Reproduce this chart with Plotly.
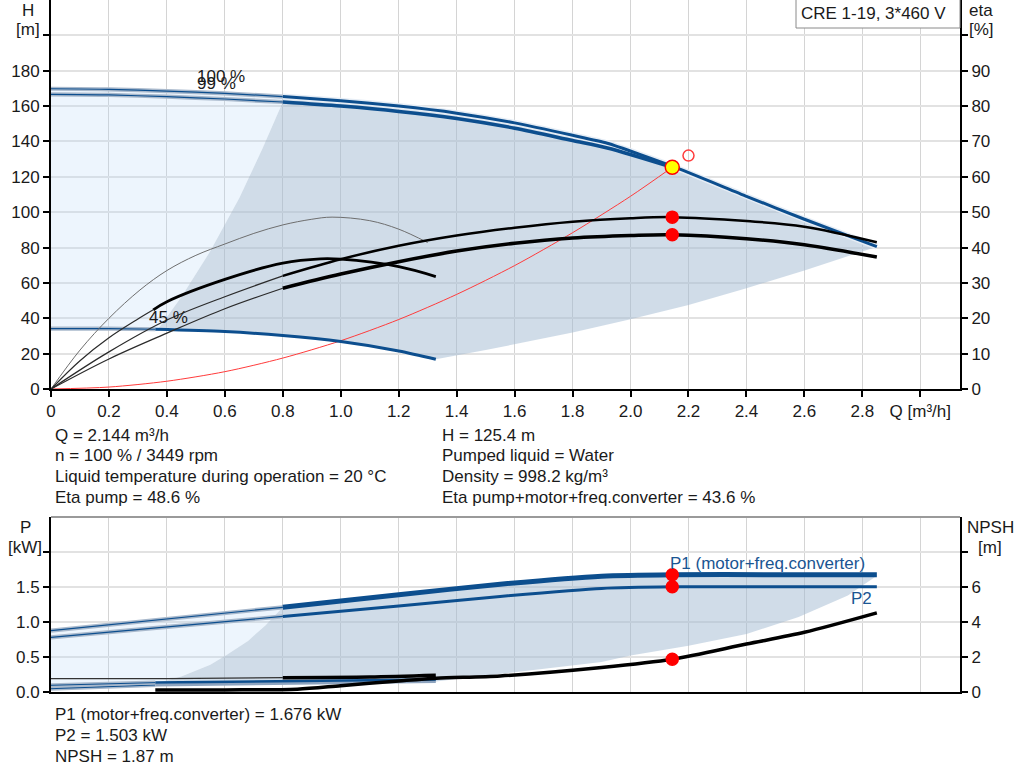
"""Pump performance chart: CRE 1-19, 3*460 V.

Two stacked panels sharing the flow axis: head + efficiency on top,
power + NPSH underneath, with the duty point marked on every curve.
"""
import plotly.graph_objects as go

# ---------------------------------------------------------------------
# Data
# ---------------------------------------------------------------------
# head curves [m] vs flow [m3/h]
q_100 = [0, 0.2, 0.4, 0.6, 0.8, 1.0, 1.2, 1.4, 1.6, 1.8, 1.92, 2.144, 2.4, 2.6, 2.85]
h_100 = [169.8, 169.5, 168.5, 167.2, 165.4, 163.0, 160.0, 156.0, 150.5, 143.5, 139.0, 126.0, 109.0, 96.0, 80.5]
q_99 = [0, 0.2, 0.4, 0.6, 0.8, 1.0, 1.2, 1.4, 1.6, 1.8, 1.92, 2.144]
h_99 = [166.6, 166.3, 165.3, 164.0, 162.3, 160.0, 157.0, 153.0, 147.5, 140.5, 136.3, 125.4]
q_45 = [0, 0.2, 0.36, 0.6, 0.8, 1.0, 1.2, 1.328]
h_45 = [34.2, 34.1, 33.8, 32.5, 30.2, 26.8, 21.5, 16.8]
q_sys = [0, 0.2, 0.4, 0.6, 0.8, 1.0, 1.2, 1.4, 1.6, 1.8, 2.0, 2.144]
h_sys = [0, 1.1, 4.4, 9.8, 17.5, 27.3, 39.3, 53.5, 69.8, 88.4, 109.0, 125.4]

# operating range edges (top panel)
q_hmin = [0.37, 0.45, 0.55, 0.65, 0.73, 0.8]
h_hmin = [34.0, 52.0, 78.0, 108.0, 136.0, 162.3]
q_hlow = [1.328, 1.5, 1.8, 2.0, 2.2, 2.4, 2.6, 2.85]
h_hlow = [16.8, 22.0, 32.0, 39.5, 47.5, 57.0, 67.0, 80.5]

# efficiency curves [%]
q_eta = [0, 0.2, 0.4, 0.6, 0.8, 1.0, 1.2, 1.4, 1.6, 1.8, 2.0, 2.144, 2.4, 2.6, 2.85]
eta_pump = [0, 10.5, 19.5, 26.1, 32.0, 36.7, 40.5, 43.4, 45.6, 47.3, 48.3, 48.6, 47.5, 45.9, 41.5]
eta_total = [0, 8.5, 15.8, 22.7, 28.5, 32.5, 36.0, 39.0, 41.2, 42.7, 43.4, 43.6, 42.5, 40.8, 37.3]
q_eta45 = [0, 0.1, 0.2, 0.307, 0.4, 0.5, 0.6, 0.7, 0.8, 0.9, 0.97, 1.1, 1.2, 1.3]
eta_pump45 = [0, 11.0, 20.0, 28.0, 33.5, 37.8, 41.0, 44.0, 46.4, 48.0, 48.6, 47.6, 45.2, 41.4]
q_etat45 = [0, 0.1, 0.2, 0.3, 0.353, 0.4, 0.6, 0.8, 0.93, 1.0, 1.2, 1.328]
eta_total45 = [0, 8.0, 14.5, 19.8, 22.4, 24.7, 31.0, 35.6, 36.8, 36.7, 34.6, 31.8]

# power curves [kW]
q_p = [0, 0.4, 0.8, 1.2, 1.55, 1.9, 2.144, 2.5, 2.85]
p1_100 = [0.876, 1.045, 1.21, 1.39, 1.54, 1.655, 1.676, 1.676, 1.676]
p2_100 = [0.78, 0.93, 1.08, 1.23, 1.365, 1.48, 1.503, 1.503, 1.503]
q_p45 = [0, 0.36, 0.8, 1.328]
p1_45 = [0.096, 0.134, 0.158, 0.18]
p2_45 = [0.047, 0.10, 0.125, 0.15]
q_pblk = [0, 0.4, 0.8, 1.1, 1.328]
p_blk = [0.19, 0.19, 0.205, 0.215, 0.24]

# operating range edges (bottom panel)
q_pmin = [0.36, 0.45, 0.55, 0.606, 0.68, 0.74, 0.8]
p_pmin = [0.12, 0.22, 0.39, 0.53, 0.73, 0.95, 1.21]
q_plow = [1.328, 1.55, 1.9, 2.0, 2.2, 2.4, 2.58, 2.75, 2.85]
p_plow = [0.16, 0.26, 0.43, 0.52, 0.66, 0.83, 1.07, 1.38, 1.66]

# NPSH [m]
q_npsh = [0.36, 0.6, 0.85, 1.0, 1.2, 1.33, 1.55, 1.9, 2.144, 2.4, 2.6, 2.85]
npsh = [0.11, 0.12, 0.16, 0.36, 0.63, 0.79, 0.92, 1.4, 1.87, 2.74, 3.41, 4.52]

# duty point
q_duty, h_duty = 2.144, 125.4
eta_pump_duty, eta_total_duty = 48.6, 43.6
p1_duty, p2_duty, npsh_duty = 1.676, 1.503, 1.87
q_req, h_req = 2.2, 132.0

# axis ticks
q_ticks = [0, 0.2, 0.4, 0.6, 0.8, 1.0, 1.2, 1.4, 1.6, 1.8, 2.0, 2.2, 2.4, 2.6, 2.8, 3.0]
q_ticktext = ["0", "0.2", "0.4", "0.6", "0.8", "1.0", "1.2", "1.4", "1.6", "1.8",
              "2.0", "2.2", "2.4", "2.6", "2.8", "Q [m³/h]"]
h_ticks = [0, 20, 40, 60, 80, 100, 120, 140, 160, 180, 200]
eta_ticks = [0, 10, 20, 30, 40, 50, 60, 70, 80, 90, 100]
p_ticks = [0, 0.5, 1.0, 1.5, 2.0]
p_ticktext = ["0.0", "0.5", "1.0", "1.5", ""]
npsh_ticks = [0, 2, 4, 6, 8]

info_left = ["Q = 2.144 m³/h", "n = 100 % / 3449 rpm",
             "Liquid temperature during operation = 20 °C", "Eta pump = 48.6 %"]
info_right = ["H = 125.4 m", "Pumped liquid = Water", "Density = 998.2 kg/m³",
              "Eta pump+motor+freq.converter = 43.6 %"]
info_bottom = ["P1 (motor+freq.converter) = 1.676 kW", "P2 = 1.503 kW", "NPSH = 1.87 m"]

# ---------------------------------------------------------------------
# Styling
# ---------------------------------------------------------------------
W, H = 1024, 781
FONT = "Liberation Sans, Arial, sans-serif"
FS = 17
BLUE = "#0c4e8e"
HALO = "#a9b9cc"
LIGHT_FILL = "rgba(180,215,245,0.24)"
DARK_FILL = "rgba(161,185,209,0.5)"
GRID_V = "#d4d4d4"
GRID_H = "#e2e2e2"


def px(x):
    """Page pixel column -> paper fraction."""
    return x / W


def py(y):
    """Page pixel row -> paper fraction."""
    return 1 - y / H


def _pick(q, v, lo, hi):
    """Points of a curve with lo <= q <= hi (used to split thin/thick parts)."""
    pts = [(a, b) for a, b in zip(q, v) if lo <= a <= hi]
    return [p[0] for p in pts], [p[1] for p in pts]


fig = go.Figure()


def curve(x, y, ax, color, width, halo=None, smooth=0.8):
    axes = {"H": ("x", "y"), "eta": ("x", "y2"), "P": ("x2", "y3"), "NPSH": ("x2", "y4")}[ax]
    shape = dict(shape="spline", smoothing=smooth) if smooth else dict(shape="linear")
    if halo:
        fig.add_trace(go.Scatter(x=x, y=y, xaxis=axes[0], yaxis=axes[1], mode="lines",
                                 line=dict(color=halo, width=width + 3, **shape),
                                 hoverinfo="skip"))
    fig.add_trace(go.Scatter(x=x, y=y, xaxis=axes[0], yaxis=axes[1], mode="lines",
                             line=dict(color=color, width=width, **shape), hoverinfo="skip"))


def area(x, y, xa, ya, color):
    fig.add_trace(go.Scatter(x=x, y=y, xaxis=xa, yaxis=ya, mode="lines", fill="toself",
                             fillcolor=color, line=dict(width=0), hoverinfo="skip"))


def dots(x, y, xa, ya, size, color, line_color=None, symbol="circle"):
    fig.add_trace(go.Scatter(x=x, y=y, xaxis=xa, yaxis=ya, mode="markers",
                             marker=dict(size=size, color=color, symbol=symbol,
                                         line=dict(color=line_color or color, width=1.5)),
                             hoverinfo="skip"))


# ---------------------------------------------------------------------
# Top panel: head / efficiency
# ---------------------------------------------------------------------
area(q_100[:5] + q_hmin[::-1] + q_45[2::-1], h_100[:5] + h_hmin[::-1] + h_45[2::-1],
     "x", "y", LIGHT_FILL)
area(q_hmin + q_100[4:] + q_hlow[::-1] + q_45[:1:-1],
     h_hmin + h_100[4:] + h_hlow[::-1] + h_45[:1:-1], "x", "y", DARK_FILL)

curve(q_sys, h_sys, "H", "#ff3b3b", 1)

curve(q_eta45, eta_pump45, "eta", "#6e6e6e", 1, smooth=1)
curve(*_pick(q_eta, eta_pump, 0, 0.8), "eta", "#2a2a2a", 1.2, smooth=1)
curve(*_pick(q_eta, eta_pump, 0.8, 3), "eta", "black", 2.5, smooth=1)
curve(*_pick(q_eta, eta_total, 0, 0.8), "eta", "#2a2a2a", 1.2, smooth=1)
curve(*_pick(q_eta, eta_total, 0.8, 3), "eta", "black", 3.5, smooth=1)
curve(*_pick(q_etat45, eta_total45, 0, 0.353), "eta", "#2a2a2a", 1.2, smooth=1)
curve(*_pick(q_etat45, eta_total45, 0.353, 3), "eta", "black", 2.8, smooth=1)

curve(*_pick(q_100, h_100, 0, 0.8), "H", BLUE, 1.2, halo=HALO)
curve(*_pick(q_99, h_99, 0, 0.8), "H", BLUE, 1.2, halo=HALO)
curve(*_pick(q_45, h_45, 0, 0.36), "H", BLUE, 1.2, halo=HALO)
curve(*_pick(q_100, h_100, 0.8, 3), "H", BLUE, 3, halo="#e6edf5", smooth=0.5)
curve(*_pick(q_99, h_99, 0.8, 3), "H", BLUE, 3.5)
curve(*_pick(q_45, h_45, 0.36, 3), "H", BLUE, 3)

dots([q_duty, q_duty], [eta_pump_duty, eta_total_duty], "x", "y2", 12, "#ff0000")
dots([q_req], [h_req], "x", "y", 11, "#ff3b3b", symbol="circle-open")
dots([q_duty], [h_duty], "x", "y", 14, "#ffff00", line_color="#ff0000")

# ---------------------------------------------------------------------
# Bottom panel: power / NPSH
# ---------------------------------------------------------------------
area(q_p[:3] + q_pmin[::-1] + q_p45[1::-1], p1_100[:3] + p_pmin[::-1] + p2_45[1::-1],
     "x2", "y3", LIGHT_FILL)
area(q_pmin + q_p[2:] + q_plow[::-1] + q_p45[:0:-1],
     p_pmin + p1_100[2:] + p_plow[::-1] + p2_45[:0:-1], "x2", "y3", DARK_FILL)

curve(*_pick(q_p45, p2_45, 0, 0.36), "P", BLUE, 1, halo=HALO, smooth=0)
curve(*_pick(q_p45, p1_45, 0, 0.36), "P", BLUE, 1, halo=HALO, smooth=0)
curve(*_pick(q_p45, p2_45, 0.36, 3), "P", "#8ea4bf", 3, smooth=0)
curve(*_pick(q_p45, p1_45, 0.36, 3), "P", BLUE, 2.5, smooth=0)
curve(*_pick(q_pblk, p_blk, 0, 0.8), "P", "#333333", 1.3, smooth=0)
curve(*_pick(q_pblk, p_blk, 0.8, 3), "P", "black", 3.5)
curve(q_npsh, npsh, "NPSH", "black", 3.5)

curve(*_pick(q_p, p1_100, 0, 0.8), "P", BLUE, 1.2, halo=HALO, smooth=0)
curve(*_pick(q_p, p2_100, 0, 0.8), "P", BLUE, 1.2, halo=HALO, smooth=0)
curve(*_pick(q_p, p2_100, 0.8, 3), "P", BLUE, 3, smooth=0.6)
curve(*_pick(q_p, p1_100, 0.8, 3), "P", BLUE, 5, smooth=0.6)

dots([q_duty, q_duty], [p1_duty, p2_duty], "x2", "y3", 12, "#ff0000")
dots([q_duty], [npsh_duty], "x2", "y4", 12, "#ff0000")

# ---------------------------------------------------------------------
# Axes
# ---------------------------------------------------------------------
x_dom = [px(51), px(960)]
x_max = 3.137
tick_font = dict(family=FONT, size=FS, color="#1a1a1a")

common_x = dict(domain=x_dom, range=[0, x_max], tickvals=q_ticks, showgrid=True,
                gridcolor=GRID_V, gridwidth=1, zeroline=False, showline=True,
                linecolor="black", linewidth=2, tickfont=tick_font, automargin=False)
common_y = dict(showgrid=True, gridcolor=GRID_H, gridwidth=2, zeroline=False, showline=True,
                linecolor="black", linewidth=2, ticks="outside", ticklen=6, tickwidth=1.5,
                tickcolor="black", tickfont=tick_font, automargin=False)
right_y = dict(side="right", showgrid=False, zeroline=False, showline=True,
               linecolor="black", linewidth=2, ticks="outside", ticklen=6, tickwidth=1.5,
               tickcolor="black", tickfont=tick_font, automargin=False)

fig.update_layout(
    width=W, height=H, margin=dict(l=0, r=0, t=0, b=0, autoexpand=False),
    paper_bgcolor="white", plot_bgcolor="white", showlegend=False,
    font=dict(family=FONT, size=FS, color="#1a1a1a"),
    xaxis=dict(anchor="y", ticktext=q_ticktext, ticks="outside", ticklen=6, tickwidth=1.5,
               tickcolor="black", **common_x),
    yaxis=dict(domain=[py(389), 1], range=[0, 220], tickvals=h_ticks,
               ticktext=[str(v) for v in h_ticks[:-1]] + [""], **common_y),
    yaxis2=dict(overlaying="y", anchor="x", range=[0, 110], tickvals=eta_ticks,
                ticktext=[str(v) for v in eta_ticks[:-1]] + [""], **right_y),
    xaxis2=dict(anchor="y3", showticklabels=False, ticks="", **common_x),
    yaxis3=dict(domain=[py(692), py(517)], range=[0, 2.5], tickvals=p_ticks,
                ticktext=p_ticktext, **common_y),
    yaxis4=dict(overlaying="y3", anchor="x2", range=[0, 10], tickvals=npsh_ticks,
                ticktext=[str(v) for v in npsh_ticks[:-1]] + [""], **right_y),
)

# top border of the power panel and the type-label box
fig.add_shape(type="line", xref="paper", yref="paper", x0=px(51), x1=px(960),
              y0=py(517), y1=py(517), line=dict(color="#9a9a9a", width=2))
fig.add_shape(type="rect", xref="paper", yref="paper", x0=px(796), x1=px(960),
              y0=py(28), y1=1.01, fillcolor="white", line=dict(color="#8a8a8a", width=1))

# ---------------------------------------------------------------------
# Text
# ---------------------------------------------------------------------
def text(x, y, s, anchor="left", color="#1a1a1a", size=FS, xref="paper", yref="paper"):
    fig.add_annotation(x=x, y=y, xref=xref, yref=yref, text=s, showarrow=False,
                       xanchor=anchor, yanchor="middle",
                       font=dict(family=FONT, size=size, color=color))


text(px(873), py(14), "CRE 1-19, 3*460 V", anchor="center")
text(px(28), py(11), "H", anchor="center")
text(px(28), py(30), "[m]", anchor="center")
text(px(981), py(11), "eta", anchor="center")
text(px(981), py(30), "[%]", anchor="center")
text(px(25), py(527), "P", anchor="center")
text(px(25), py(547), "[kW]", anchor="center")
text(px(990), py(527), "NPSH", anchor="center")
text(px(990), py(547), "[m]", anchor="center")

text(0.586, 176.5, "100 %", anchor="center", xref="x", yref="y")
text(0.572, 172.5, "99 %", anchor="center", xref="x", yref="y")
text(0.405, 40.6, "45 %", anchor="center", xref="x", yref="y")
text(2.471, 1.84, "P1 (motor+freq.converter)", anchor="center", color="#1a5592",
     xref="x2", yref="y3")
text(2.797, 1.33, "P2", anchor="center", color="#1a5592", xref="x2", yref="y3")

for i, s in enumerate(info_left):
    text(px(53), py(435 + 20.7 * i), s)
for i, s in enumerate(info_right):
    text(px(440), py(435 + 20.7 * i), s)
for i, s in enumerate(info_bottom):
    text(px(53), py(714 + 21 * i), s)

# drop the browser's default 8 px body margin so the figure fills the window
fig.write_html("out.html", config={"displayModeBar": False},
               post_script="document.body.style.margin = '0';")
